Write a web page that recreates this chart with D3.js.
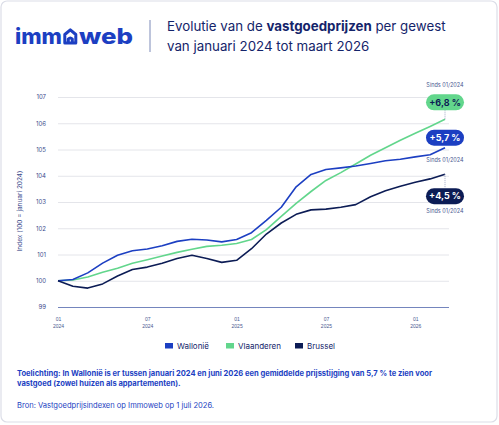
<!DOCTYPE html>
<html>
<head>
<meta charset="utf-8">
<script src="https://cdn.jsdelivr.net/npm/d3@7"></script>
<style>
  body { margin: 0; background: #fff; }
  svg { display: block; font-family: Inter, "Noto Sans", sans-serif; }
</style>
</head>
<body>
<div id="chart"></div>
<script>
// data: index (100 = januari 2024), monthly jan 2024 - maart 2026
var months = ['2024-01','2024-02','2024-03','2024-04','2024-05','2024-06','2024-07','2024-08','2024-09','2024-10','2024-11','2024-12',
  '2025-01','2025-02','2025-03','2025-04','2025-05','2025-06','2025-07','2025-08','2025-09','2025-10','2025-11','2025-12',
  '2026-01','2026-02','2026-03'];
var wallonie = [100.0,100.05,100.3,100.67,100.97,101.14,101.21,101.33,101.5,101.58,101.55,101.48,
  101.57,101.83,102.3,102.8,103.58,104.05,104.24,104.3,104.37,104.47,104.57,104.63,104.72,104.8,105.07];
var vlaanderen = [100.0,100.03,100.14,100.32,100.48,100.67,100.8,100.94,101.08,101.2,101.31,101.35,
  101.42,101.57,101.95,102.45,102.95,103.4,103.82,104.12,104.45,104.78,105.07,105.35,105.62,105.88,106.15];
var brussel = [100.0,99.79,99.72,99.88,100.18,100.43,100.52,100.67,100.85,100.97,100.85,100.7,
  100.78,101.22,101.78,102.2,102.53,102.7,102.73,102.8,102.9,103.2,103.43,103.6,103.75,103.88,104.06];
var seriesNames = ['Wallonië','Vlaanderen','Brussel'];
var seriesColors = ['#1c3fc2','#62d68c','#0c1c55'];
var changeLabels = ['+5,7 %','+6,8 %','+4,5 %'];
var yTicks = [99,100,101,102,103,104,105,106,107];
var xTickMonths = ['2024-01','2024-07','2025-01','2025-07','2026-01'];

var W = 499, H = 425;
var svg = d3.select('#chart').append('svg').attr('width', W).attr('height', H);

// card
svg.append('rect').attr('x',1).attr('y',1).attr('width',W-3).attr('height',H-4)
  .attr('rx',6).attr('fill','#fff').attr('stroke','#dcdee8').attr('stroke-width',1.2);

// logo
var blue = '#1c3fc2', navy = '#14246a';
var logo = svg.append('g').attr('fill', blue).style('font-weight', 800).style('font-size','22px');
logo.append('text').attr('x',15).attr('y',44).attr('textLength',47).attr('lengthAdjust','spacingAndGlyphs').text('imm');
logo.append('text').attr('x',79).attr('y',44).attr('textLength',54).attr('lengthAdjust','spacingAndGlyphs').text('web');
logo.append('path')
  .attr('d','M64.8,43 L64.8,34.5 L70.3,29.8 L75.8,34.5 L75.8,43 Z M68.3,43 L68.3,39 Q70.3,37 72.3,39 L72.3,43')
  .attr('fill','none').attr('stroke',blue).attr('stroke-width',3).attr('stroke-linejoin','round');

svg.append('line').attr('x1',150).attr('x2',150).attr('y1',20).attr('y2',52)
  .attr('stroke','#7d8ab8').attr('stroke-width',1);

var title = svg.append('text').attr('x',167).attr('y',31).attr('fill',navy).style('font-size','13.3px');
title.append('tspan').text('Evolutie van de ');
title.append('tspan').style('font-weight',700).text('vastgoedprijzen');
title.append('tspan').text(' per gewest');
svg.append('text').attr('x',167).attr('y',51).attr('fill',navy).style('font-size','13.3px')
  .text('van januari 2024 tot maart 2026');

// scales
var x = d3.scalePoint().domain(months).range([58, 445]);
var y = d3.scaleLinear().domain([99, 107]).range([307, 97]);
var gridRight = 449;

var yAxis = svg.append('g').attr('transform','translate(58,0)')
  .call(d3.axisLeft(y).tickValues(yTicks).tickSize(-(gridRight-58)).tickPadding(12).tickFormat(d3.format('d')));
yAxis.select('.domain').remove();
yAxis.selectAll('.tick line').attr('stroke', d => d === 99 ? '#7485bd' : '#e4e5ea').attr('stroke-width', d => d === 99 ? 1.2 : 1);
yAxis.selectAll('.tick text').attr('fill','#3b4a8c').style('font-size','6px').style('font-family','Inter, sans-serif');

svg.append('text').attr('transform','translate(22,211)rotate(-90)').attr('text-anchor','middle')
  .attr('fill','#3b4a8c').style('font-size','6.5px').text('Index (100 = januari 2024)');

var xAxis = svg.append('g').attr('transform','translate(0,307)')
  .call(d3.axisBottom(x).tickValues(xTickMonths).tickSize(0).tickFormat(''));
xAxis.select('.domain').remove();
xAxis.selectAll('.tick').each(function (d) {
  var t = d3.select(this).append('text').attr('fill','#4a5890').attr('text-anchor','middle').style('font-size','5px');
  t.append('tspan').attr('x',0).attr('y',14).text(d.slice(5));
  t.append('tspan').attr('x',0).attr('y',21).text(d.slice(0,4));
});

// lines
var data = [wallonie, vlaanderen, brussel];
var line = d3.line().x((d, i) => x(months[i])).y(d => y(d));
svg.append('g').selectAll('path').data([1, 0, 2]).join('path')
  .attr('d', k => line(data[k])).attr('fill','none')
  .attr('stroke', k => seriesColors[k]).attr('stroke-width',1.6).attr('stroke-linejoin','round');

// end annotations
var last = months.length - 1;
var ann = [
  {k: 1, pill: -17, sinds: -34, dotted: true, text: '#0c1c55'},
  {k: 0, pill: -10, sinds: 12, dotted: false, text: '#fff'},
  {k: 2, pill: 22, sinds: 37, dotted: true, text: '#fff'}
];
ann.forEach(function (a) {
  var ex = x(months[last]), ey = y(data[a.k][last]);
  var g = svg.append('g');
  var pw = 38, ph = 16;
  if (a.dotted) {
    var y2 = ey + a.pill + (a.pill < 0 ? ph/2 : -ph/2);
    g.append('line').attr('x1',ex).attr('x2',ex).attr('y1',ey).attr('y2',y2)
      .attr('stroke','#8a94b8').attr('stroke-width',0.8).attr('stroke-dasharray','1,1');
  }
  g.append('rect').attr('x',ex-pw/2).attr('y',ey+a.pill-ph/2).attr('width',pw).attr('height',ph)
    .attr('rx',ph/2).attr('fill',seriesColors[a.k]);
  g.append('text').attr('x',ex).attr('y',ey+a.pill+3.2).attr('text-anchor','middle')
    .attr('fill',a.text).style('font-size','9px').style('font-weight',700).text(changeLabels[a.k]);
  g.append('text').attr('x',ex).attr('y',ey+a.sinds+2).attr('text-anchor','middle')
    .attr('fill','#4a5890').style('font-size','5.5px').text('Sinds 01/2024');
});

// legend
var legX = [165, 226, 295];
var leg = svg.append('g').selectAll('g').data(seriesNames).join('g')
  .attr('transform', (d, i) => `translate(${legX[i]},346)`);
leg.append('rect').attr('x',0).attr('y',-3).attr('width',8).attr('height',5.5).attr('fill',(d,i) => seriesColors[i]);
leg.append('text').attr('x',12).attr('y',2.8).attr('fill',navy).style('font-size','8px').text(d => d);

// notes
svg.append('text').attr('x',17).attr('y',376).attr('fill',blue).style('font-size','7.55px').style('font-weight',700)
  .text('Toelichting: In Wallonië is er tussen januari 2024 en juni 2026 een gemiddelde prijsstijging van 5,7 % te zien voor');
svg.append('text').attr('x',17).attr('y',386).attr('fill',blue).style('font-size','7.55px').style('font-weight',700)
  .text('vastgoed (zowel huizen als appartementen).');
svg.append('text').attr('x',17).attr('y',407.5).attr('fill',blue).style('font-size','7.55px')
  .text('Bron: Vastgoedprijsindexen op Immoweb op 1 juli 2026.');
</script>
</body>
</html>
